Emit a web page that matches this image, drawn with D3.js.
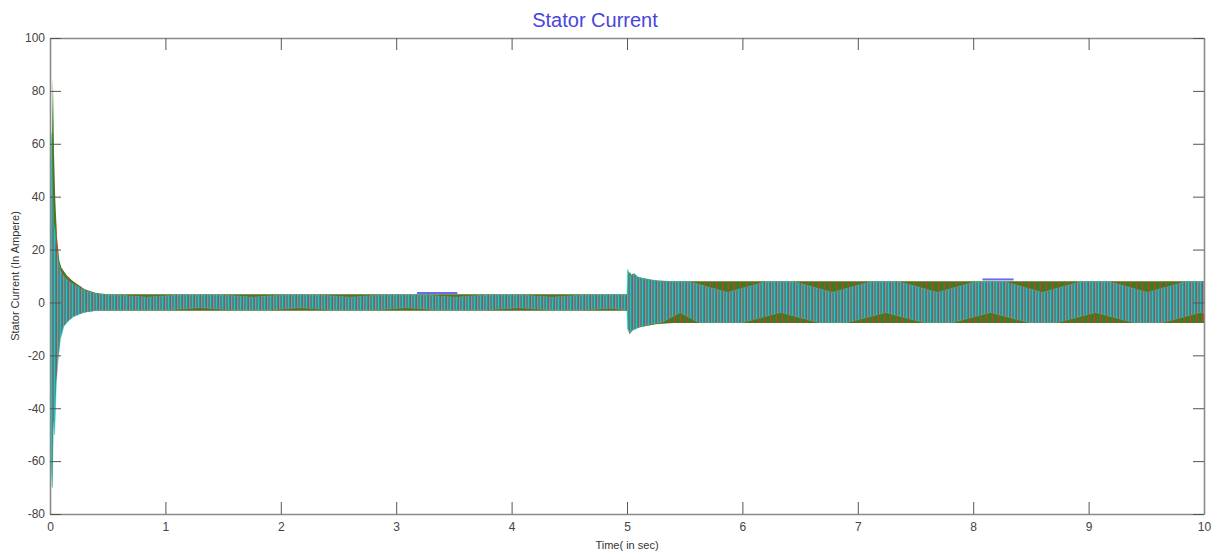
<!DOCTYPE html>
<html>
<head>
<meta charset="utf-8">
<script src="https://cdn.jsdelivr.net/npm/d3@7"></script>
<style>
  body { margin: 0; background: #fff; }
  text { font-family: "Liberation Sans", Arial, sans-serif; }
</style>
</head>
<body>
<div id="chart"></div>
<script>
// Tick values
var xTicks = [0, 1, 2, 3, 4, 5, 6, 7, 8, 9, 10];
var yTicks = [-80, -60, -40, -20, 0, 20, 40, 60, 80, 100];

// Envelope readings (time in sec, current in A) for each phase
// phase A - red
var redHiT = [0, 0.008, 0.014, 0.028, 0.036, 0.046, 0.06, 0.07, 0.08, 0.09, 0.1, 0.12, 0.15, 0.2, 0.3, 0.4, 0.5, 5.0, 5.01, 5.04, 5.1, 5.2, 5.35, 10];
var redHi  = [0, 30, 15, 48, 25, 38, 22, 17, 18, 12, 14, 10, 10, 8, 5, 3.5, 3.0, 3.0, 9, 11, 9, 8.3, 7.9, 7.9];
var redLoT = redHiT;
var redLo  = [0, -40, -77, -50, -60, -35, -25, -19, -14, -12, -10, -8, -7, -5, -3.5, -3, -3.0, -3.0, -12, -10, -9.5, -8.3, -7.7, -7.7];

// phase B - green
var greenHiT = [0, 0.006, 0.012, 0.02, 0.025, 0.035, 0.045, 0.06, 0.08, 0.1, 0.15, 0.2, 0.3, 0.4, 0.5, 5.0, 5.02, 5.05, 5.1, 5.25, 5.4, 10];
var greenHi  = [0, 91, 40, 71, 85, 56, 40, 25, 16, 13, 10, 8, 5, 3.6, 3.1, 3.1, 11.5, 10, 9.5, 8.3, 8.0, 8.0];
var greenLoT = greenHiT;
var greenLo  = [0, -20, -60, -70, -50, -40, -30, -22, -14, -10, -7, -5, -3.8, -3.1, -3.1, -3.1, -12, -10.5, -9.5, -8.2, -7.8, -7.8];

// phase C - cyan
var cyanHiT = [0, 0.005, 0.012, 0.02, 0.03, 0.04, 0.055, 0.07, 0.09, 0.12, 0.16, 0.2, 0.3, 0.4, 0.5,
  0.54, 0.84, 1.14, 1.46, 1.76, 2.06, 2.30, 2.60, 2.90, 3.21, 3.51, 3.81, 4.05, 4.35, 4.65, 5.0,
  5.005, 5.03, 5.06, 5.1, 5.2, 5.3, 5.54, 5.87, 6.20, 6.45, 6.78, 7.11, 7.36, 7.69, 8.02, 8.27, 8.60, 8.93, 9.18, 9.51, 9.84, 10];
var cyanHi  = [0, 50, 64, 45, 30, 28, 22, 16, 12, 10, 8, 7, 4.5, 3.3, 2.9,
  2.9, 2.0, 2.9, 2.9, 2.0, 2.9, 2.9, 2.0, 2.9, 2.9, 2.0, 2.9, 2.9, 2.0, 2.9, 2.9,
  12.5, 10, 11, 9.5, 8.6, 8.0, 7.8, 3.8, 7.8, 7.8, 3.8, 7.8, 7.8, 3.8, 7.8, 7.8, 3.8, 7.8, 7.8, 3.8, 7.8, 7.8];
var cyanLoT = [0, 0.004, 0.01, 0.02, 0.03, 0.04, 0.055, 0.07, 0.09, 0.12, 0.16, 0.2, 0.3, 0.4, 0.5,
  1.00, 1.30, 1.60, 1.87, 2.17, 2.47, 2.79, 3.09, 3.39, 3.76, 4.06, 4.36, 4.60, 4.85, 5.0,
  5.005, 5.02, 5.05, 5.1, 5.2, 5.3, 5.46, 5.62, 6.0, 6.33, 6.66, 6.91, 7.24, 7.57, 7.82, 8.15, 8.48, 8.73, 9.06, 9.39, 9.64, 9.97, 10];
var cyanLo  = [0, -73, -62, -70, -45, -50, -30, -22, -14, -9, -7, -5.5, -3.6, -3, -2.9,
  -2.9, -2.0, -2.9, -2.9, -2.0, -2.9, -2.9, -2.0, -2.9, -2.9, -2.0, -2.9, -2.9, -2.2, -2.9,
  -10, -11.4, -10.5, -9.5, -8.2, -7.6, -3.8, -7.6, -7.6, -3.8, -7.6, -7.6, -3.8, -7.6, -7.6, -3.8, -7.6, -7.6, -3.8, -7.6, -7.6, -3.8, -4.2];

// short blue segments peeking above the bands
var blueT0 = [3.18, 8.08];
var blueT1 = [3.53, 8.35];
var blueV  = [3.6, 8.7];

var svgWidth = 1219;
var svgHeight = 558;

var margin = { top: 38, right: 15, bottom: 44, left: 50 };

var width = svgWidth - margin.left - margin.right;
var height = svgHeight - margin.top - margin.bottom;

var svg = d3.select("#chart")
  .append("svg")
  .attr("width", svgWidth)
  .attr("height", svgHeight);

var chartGroup = svg.append("g")
  .attr("transform", `translate(${margin.left}, ${margin.top})`);

var xScale = d3.scaleLinear().domain([0, 10]).range([0, width]);
var yScale = d3.scaleLinear().domain([-80, 100]).range([height, 0]);

// stripe patterns to mimic the dense oscillation
var defs = svg.append("defs");
function stripes(id, period, offset, bg, color) {
  var p = defs.append("pattern")
    .attr("id", id)
    .attr("patternUnits", "userSpaceOnUse")
    .attr("x", offset)
    .attr("width", period)
    .attr("height", 20);
  if (bg) p.append("rect").attr("width", period).attr("height", 20).attr("fill", bg);
  p.append("rect").attr("width", 1).attr("height", 20).attr("fill", color);
}
stripes("greenStripes", 3, 2, "#5b6b24", "#2a8a22");
stripes("cyanStripes", 3, 1, "#4e8787", "#14c6c6");
stripes("redStripes", 6, 0, null, "#e3332b");

defs.append("clipPath").attr("id", "plotClip")
  .append("rect").attr("width", width).attr("height", height);

var line = d3.line()
  .x(d => xScale(d[0]))
  .y(d => yScale(d[1]));

function band(hiT, hi, loT, lo) {
  var top = hiT.map((t, i) => [t, hi[i]]);
  var bot = loT.map((t, i) => [t, lo[i]]).reverse();
  return line(top.concat(bot)) + "Z";
}

var dataGroup = chartGroup.append("g").attr("clip-path", "url(#plotClip)");

dataGroup.append("path")
  .attr("d", band(greenHiT, greenHi, greenLoT, greenLo))
  .attr("fill", "url(#greenStripes)");

dataGroup.append("path")
  .attr("d", band(cyanHiT, cyanHi, cyanLoT, cyanLo))
  .attr("fill", "url(#cyanStripes)")
  .attr("stroke", "#3cc8b0")
  .attr("stroke-width", 0.8)
  .attr("stroke-opacity", 0.6);

dataGroup.append("path")
  .attr("d", band(redHiT, redHi, redLoT, redLo))
  .attr("fill", "url(#redStripes)")
  .attr("opacity", 0.85);

dataGroup.selectAll(".blueSeg")
  .data(blueV)
  .enter()
  .append("line")
  .attr("class", "blueSeg")
  .attr("x1", (d, i) => xScale(blueT0[i]))
  .attr("x2", (d, i) => xScale(blueT1[i]))
  .attr("y1", d => yScale(d))
  .attr("y2", d => yScale(d))
  .attr("stroke", "#6a6af0")
  .attr("stroke-width", 2);

// axes, ticks pointing inward on all four sides
var axisColor = "#8a8a8a";
function styleAxis(g) {
  g.select(".domain").attr("stroke", axisColor).attr("stroke-width", 1.6);
  g.selectAll(".tick line").attr("stroke", "#555");
  g.selectAll(".tick text").attr("fill", "#444").style("font-size", "12px");
}

chartGroup.append("g")
  .attr("transform", `translate(0, ${height})`)
  .call(d3.axisBottom(xScale).tickValues(xTicks).tickSize(-12).tickSizeOuter(0).tickPadding(8).tickFormat(d => d))
  .call(styleAxis);

chartGroup.append("g")
  .call(d3.axisTop(xScale).tickValues(xTicks).tickSize(-12).tickSizeOuter(0).tickFormat(""))
  .call(styleAxis);

chartGroup.append("g")
  .call(d3.axisLeft(yScale).tickValues(yTicks).tickSize(-11).tickSizeOuter(0).tickPadding(5).tickFormat(d => d))
  .call(styleAxis);

chartGroup.append("g")
  .attr("transform", `translate(${width}, 0)`)
  .call(d3.axisRight(yScale).tickValues(yTicks).tickSize(-11).tickSizeOuter(0).tickFormat(""))
  .call(styleAxis);

// title and axis labels
svg.append("text")
  .attr("x", 595)
  .attr("y", 27)
  .attr("text-anchor", "middle")
  .attr("fill", "#4646dc")
  .style("font-size", "20px")
  .text("Stator Current");

svg.append("text")
  .attr("transform", `translate(19, ${margin.top + height / 2}) rotate(-90)`)
  .attr("text-anchor", "middle")
  .attr("fill", "#333")
  .style("font-size", "11px")
  .text("Stator Current (In Ampere)");

svg.append("text")
  .attr("x", margin.left + width / 2)
  .attr("y", 549)
  .attr("text-anchor", "middle")
  .attr("fill", "#333")
  .style("font-size", "11px")
  .text("Time( in sec)");
</script>
</body>
</html>
